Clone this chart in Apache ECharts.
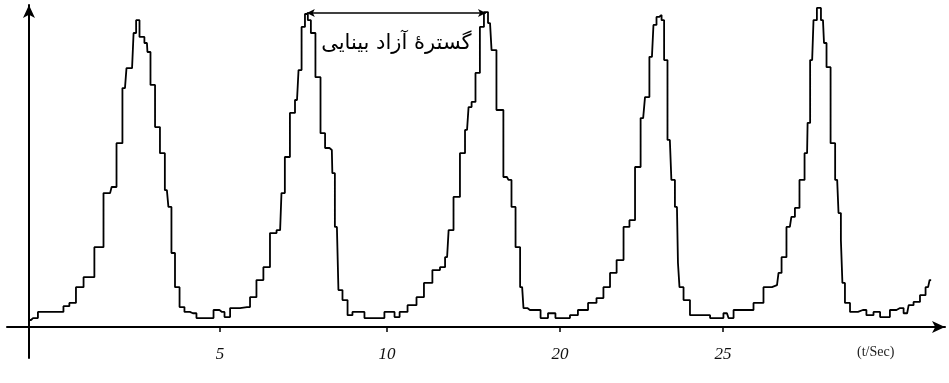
<!DOCTYPE html>
<html>
<head>
<meta charset="utf-8">
<script src="https://cdn.jsdelivr.net/npm/echarts@6/dist/echarts.min.js"></script>
<style>
  html, body { margin: 0; padding: 0; background: #fff; }
  #chart { width: 949px; height: 383px; }
</style>
</head>
<body>
<div id="chart"></div>
<script>
  // time axis (seconds) and signal amplitude (0-100)
  const tSec = [
    0, 0.12, 0.41, 0.92, 1.12, 1.27, 1.51, 1.72, 1.86, 2.01, 2.10, 2.31, 2.40, 2.49, 2.69, 2.84, 2.93, 3.05, 3.14, 3.20,
    3.34, 3.49, 3.52, 3.67, 3.79, 3.96, 4.08, 4.17, 4.26, 4.38, 4.53, 4.67, 4.85, 5.06, 5.36, 5.56, 5.71, 5.86, 6.04, 6.45,
    6.63, 6.83, 7.04, 7.22, 7.43, 7.51, 7.63, 7.81, 7.93, 8.02, 8.11, 8.22, 8.28, 8.40, 8.55, 8.70, 8.82, 8.96, 8.99, 9.11,
    9.20, 9.35, 9.50, 9.64, 9.85, 10.00, 10.44, 10.59, 10.74, 10.89, 11.04, 11.36, 11.57, 11.80, 12.07, 12.25, 12.37, 12.46, 12.66, 12.84,
    12.96, 13.05, 13.14, 13.28, 13.40, 13.52, 13.64, 13.73, 13.93, 14.14, 14.23, 14.32, 14.47, 14.59, 14.67, 14.82, 15.06, 15.21, 15.50, 15.65,
    15.92, 16.09, 16.39, 16.69, 16.89, 17.10, 17.28, 17.49, 17.69, 17.84, 18.02, 18.17, 18.28, 18.43, 18.52, 18.61, 18.67, 18.76, 18.82, 18.96,
    19.05, 19.17, 19.23, 19.26, 19.47, 19.64, 20.06, 20.24, 20.44, 20.65, 20.74, 20.95, 21.24, 21.63, 21.83, 22.13, 22.22, 22.31, 22.51, 22.60,
    22.72, 22.87, 23.02, 23.05, 23.17, 23.25, 23.37, 23.49, 23.55, 23.64, 23.79, 23.91, 23.99, 24.05, 24.08, 24.20, 24.38, 24.67, 24.88, 25.09,
    25.27, 25.38, 25.56, 25.77, 25.98, 26.07, 26.27, 26.45, 26.60, 26.69
  ];
  const signal = [
    2.2, 2.8, 4.7, 4.7, 6.5, 7.5, 12.4, 15.5, 15.5, 24.8, 24.8, 41.6, 41.6, 43.5, 57.1, 74.2, 80.4, 80.4, 91.3, 95.3,
    90.1, 88.2, 85.4, 75.2, 62.1, 54.0, 42.5, 37.3, 23.0, 12.4, 6.2, 4.7, 4.3, 2.8, 2.8, 5.3, 4.7, 3.1, 5.9, 6.2,
    9.3, 14.6, 18.6, 29.2, 30.1, 41.6, 52.8, 66.5, 70.5, 79.8, 93.2, 97.2, 95.3, 91.3, 77.6, 60.2, 55.6, 55.0, 47.8, 31.1,
    11.5, 8.4, 3.7, 4.7, 4.7, 2.8, 2.8, 4.7, 4.7, 3.1, 4.7, 6.8, 9.3, 13.7, 17.7, 18.6, 21.7, 30.1, 40.4, 54.0,
    61.2, 68.3, 69.9, 78.9, 93.2, 97.8, 94.4, 86.0, 67.4, 46.6, 45.7, 37.3, 24.8, 12.4, 5.9, 5.3, 5.3, 2.8, 4.3, 2.8,
    2.8, 3.7, 5.3, 7.5, 9.0, 12.4, 16.8, 20.8, 31.1, 33.2, 49.7, 64.9, 71.4, 83.9, 93.8, 96.3, 96.9, 95.3, 82.9, 58.1,
    45.7, 37.3, 19.9, 12.4, 8.4, 3.7, 3.7, 2.8, 2.8, 4.3, 2.8, 5.3, 5.3, 7.5, 12.4, 13.0, 16.8, 21.7, 31.1, 34.2,
    37.0, 45.7, 54.0, 63.4, 82.9, 95.3, 99.1, 95.3, 88.2, 80.7, 57.1, 45.7, 35.4, 27.0, 13.7, 7.5, 4.7, 5.3, 3.7, 4.7,
    3.1, 3.1, 5.3, 5.9, 4.3, 6.8, 7.8, 9.9, 12.4, 14.6
  ];
  // tick marks as printed on the original (the third one reads "20")
  const tickValues = [5.65, 10.59, 15.71, 20.53];
  const tickLabels = ['5', '10', '20', '25'];
  // free visual span between peak 2 and peak 3
  const spanStart = [8.22, 97.5];
  const spanEnd = [13.52, 97.5];
  const spanText = 'گسترهٔ آزاد بینایی';
  const unitText = '(t/Sec)';

  const chart = echarts.init(document.getElementById('chart'), null, { renderer: 'canvas' });

  const option = {
    backgroundColor: '#fff',
    animation: false,
    grid: { left: 7, right: 4, top: 5, bottom: 25, containLabel: false },
    xAxis: {
      type: 'value',
      min: -0.65,
      max: 27.1,
      axisLine: {
        onZero: true,
        symbol: ['none', 'arrow'],
        symbolSize: [9, 13],
        lineStyle: { color: '#000', width: 2 }
      },
      axisTick: {
        show: true,
        customValues: tickValues,
        length: 5,
        lineStyle: { color: '#000', width: 1.5 }
      },
      axisLabel: {
        customValues: tickValues,
        margin: -12,
        color: '#111',
        fontFamily: 'Liberation Serif',
        fontStyle: 'italic',
        fontSize: 17,
        formatter: (v) => {
          const i = tickValues.indexOf(v);
          return i >= 0 ? tickLabels[i] : '';
        }
      },
      splitLine: { show: false }
    },
    yAxis: {
      type: 'value',
      min: -9.6,
      max: 100,
      axisLine: {
        show: true,
        onZero: true,
        symbol: ['none', 'arrow'],
        symbolSize: [9, 13],
        lineStyle: { color: '#000', width: 2 }
      },
      axisTick: { show: false },
      axisLabel: { show: false },
      splitLine: { show: false }
    },
    graphic: [
      {
        type: 'text',
        left: 857,
        top: 345,
        style: {
          text: unitText,
          font: '14px "Liberation Serif"',
          fill: '#222'
        }
      }
    ],
    series: [
      {
        type: 'line',
        step: 'middle',
        data: tSec.map((t, i) => [t, signal[i]]),
        showSymbol: false,
        lineStyle: { color: '#000', width: 1.8 },
        markLine: {
          silent: true,
          symbol: ['arrow', 'arrow'],
          symbolSize: [6, 8],
          lineStyle: { color: '#000', width: 1.5, type: 'solid' },
          label: {
            show: true,
            position: 'insideMiddleBottom',
            distance: 20,
            formatter: spanText,
            color: '#000',
            fontFamily: 'DejaVu Sans',
            fontSize: 21
          },
          data: [[{ coord: spanStart }, { coord: spanEnd }]]
        }
      }
    ]
  };

  chart.setOption(option);
</script>
</body>
</html>
